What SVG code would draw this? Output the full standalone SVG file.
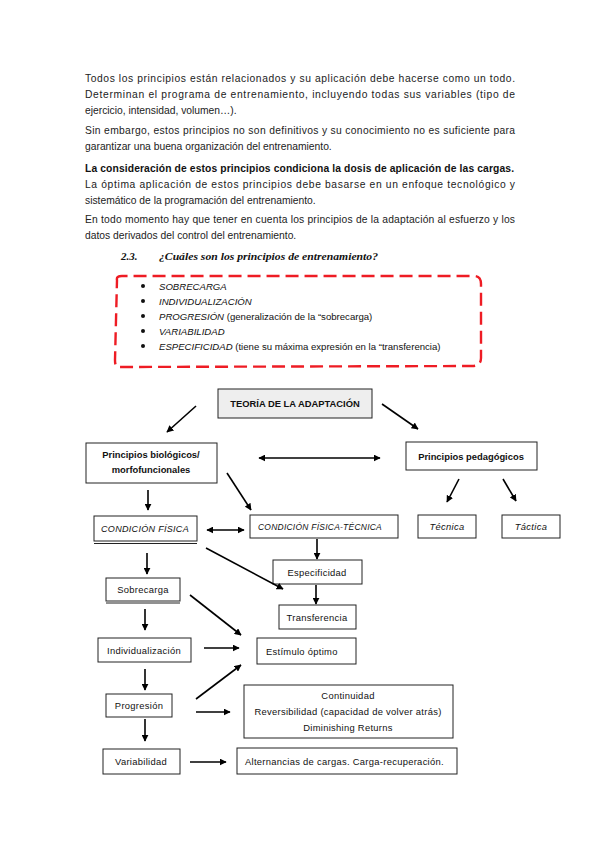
<svg xmlns="http://www.w3.org/2000/svg" width="599" height="848" viewBox="0 0 599 848">
<defs>
<marker id="ah" viewBox="0 0 10 10" refX="9" refY="5" markerWidth="7" markerHeight="7" markerUnits="userSpaceOnUse" orient="auto-start-reverse">
<path d="M0,0 L10,5 L0,10 z" fill="#000"/>
</marker>
</defs>
<style>
.p{font-family:"Liberation Sans",Arial,sans-serif;font-size:10.3px;fill:#222}
.b{font-weight:bold;fill:#111}
.h{font-family:"Liberation Serif",serif;font-size:11px;font-weight:bold;font-style:italic;fill:#111}
.l{font-family:"Liberation Sans",Arial,sans-serif;font-size:9.6px;fill:#111}
.i{font-style:italic}
.n{font-family:"Liberation Sans",Arial,sans-serif;font-size:9.4px;fill:#111;letter-spacing:0.3px}
.nb{font-weight:bold;letter-spacing:0}
.box{fill:#fff;stroke:#222;stroke-width:1}
.c{stroke:#000;stroke-width:1.6;fill:none;marker-end:url(#ah)}
.d{stroke:#000;stroke-width:1.6;fill:none;marker-end:url(#ah);marker-start:url(#ah)}
</style>
<g id="texto">
<text class="p" x="85" y="82" textLength="430" lengthAdjust="spacing">Todos los principios están relacionados y su aplicación debe hacerse como un todo.</text>
<text class="p" x="85" y="98" textLength="430" lengthAdjust="spacing">Determinan el programa de entrenamiento, incluyendo todas sus variables (tipo de</text>
<text class="p" x="85" y="114">ejercicio, intensidad, volumen…).</text>
<text class="p" x="85" y="134" textLength="430" lengthAdjust="spacing">Sin embargo, estos principios no son definitivos y su conocimiento no es suficiente para</text>
<text class="p" x="85" y="150">garantizar una buena organización del entrenamiento.</text>
<text class="p b" x="85" y="172" textLength="429" lengthAdjust="spacing">La consideración de estos principios condiciona la dosis de aplicación de las cargas.</text>
<text class="p" x="85" y="188" textLength="430" lengthAdjust="spacing">La óptima aplicación de estos principios debe basarse en un enfoque tecnológico y</text>
<text class="p" x="85" y="204">sistemático de la programación del entrenamiento.</text>
<text class="p" x="85" y="223" textLength="430" lengthAdjust="spacing">En todo momento hay que tener en cuenta los principios de la adaptación al esfuerzo y los</text>
<text class="p" x="85" y="239">datos derivados del control del entrenamiento.</text>
<text class="h" x="121" y="260">2.3.</text>
<text class="h" x="159" y="260" textLength="219" lengthAdjust="spacingAndGlyphs">¿Cuáles son los principios de entrenamiento?</text>
</g>
<g id="lista">
<path d="M117,280 Q116,276 122,276 L474,276 Q481,276 481,284 L481,358 Q481,366 472,366 L118,367 Q115,367 115,360 Z" fill="none" stroke="#ee1c24" stroke-width="2.4" stroke-dasharray="13,6"/>
<g class="l">
<circle cx="143" cy="286" r="2" fill="#111"/>
<circle cx="143" cy="301" r="2" fill="#111"/>
<circle cx="143" cy="316" r="2" fill="#111"/>
<circle cx="143" cy="331" r="2" fill="#111"/>
<circle cx="143" cy="346" r="2" fill="#111"/>
<text x="159" y="290" class="i">SOBRECARGA</text>
<text x="159" y="305" class="i">INDIVIDUALIZACIÓN</text>
<text x="159" y="320"><tspan class="i">PROGRESIÓN</tspan> (generalización de la “sobrecarga)</text>
<text x="159" y="335" class="i">VARIABILIDAD</text>
<text x="159" y="350"><tspan class="i">ESPECIFICIDAD</tspan> (tiene su máxima expresión en la “transferencia)</text>
</g>
</g>
<g id="teoria">
<rect x="218" y="389" width="154" height="29" fill="#eeeeee" stroke="#222"/>
<text class="n nb" x="295" y="407" text-anchor="middle">TEORÍA DE LA ADAPTACIÓN</text>
</g>
<g id="biologicos">
<rect class="box" x="86" y="443" width="131" height="40"/>
<text class="n nb" x="151" y="458" text-anchor="middle">Principios biológicos/</text>
<text class="n nb" x="151" y="473" text-anchor="middle">morfofuncionales</text>
</g>
<g id="pedagogicos">
<rect class="box" x="406" y="442" width="131" height="28"/>
<text class="n nb" x="471" y="460" text-anchor="middle">Principios pedagógicos</text>
</g>
<g id="condfisica">
<rect class="box" x="94" y="516" width="103" height="25"/>
<line x1="94" y1="543.5" x2="197" y2="543.5" stroke="#222"/>
<text class="n i" x="101" y="532" textLength="88" lengthAdjust="spacingAndGlyphs">CONDICIÓN FÍSICA</text>
</g>
<g id="condtecnica">
<rect class="box" x="250" y="515" width="148" height="23"/>
<text class="n i" x="258" y="530" textLength="124" lengthAdjust="spacingAndGlyphs">CONDICIÓN FÍSICA-TÉCNICA</text>
</g>
<g id="tecnica">
<rect class="box" x="418" y="515" width="58" height="23"/>
<text class="n i" x="447" y="530" text-anchor="middle">Técnica</text>
</g>
<g id="tactica">
<rect class="box" x="502" y="515" width="58" height="23"/>
<text class="n i" x="531" y="530" text-anchor="middle">Táctica</text>
</g>
<g id="especificidad">
<rect class="box" x="273" y="560" width="89" height="24"/>
<text class="n" x="317" y="576" text-anchor="middle">Especificidad</text>
</g>
<g id="transferencia">
<rect class="box" x="279" y="605" width="77" height="24"/>
<text class="n" x="317" y="621" text-anchor="middle">Transferencia</text>
</g>
<g id="sobrecarga">
<rect class="box" x="106" y="578" width="74" height="23"/>
<line x1="106" y1="603" x2="180" y2="603" stroke="#222"/>
<text class="n" x="143" y="593" text-anchor="middle">Sobrecarga</text>
</g>
<g id="individualizacion">
<rect class="box" x="98" y="638" width="93" height="24"/>
<text class="n" x="144" y="654" text-anchor="middle">Individualización</text>
</g>
<g id="estimulo">
<rect class="box" x="257" y="638" width="99" height="26"/>
<text class="n" x="266" y="655">Estímulo óptimo</text>
</g>
<g id="progresion">
<rect class="box" x="106" y="694" width="66" height="23"/>
<text class="n" x="139" y="709" text-anchor="middle">Progresión</text>
</g>
<g id="continuidad">
<rect class="box" x="244" y="685" width="209" height="53"/>
<text class="n" x="348" y="699" text-anchor="middle">Continuidad</text>
<text class="n" x="348" y="715" text-anchor="middle">Reversibilidad (capacidad de volver atrás)</text>
<text class="n" x="348" y="731" text-anchor="middle">Diminishing Returns</text>
</g>
<g id="variabilidad">
<rect class="box" x="103" y="749" width="77" height="25"/>
<text class="n" x="141" y="765" text-anchor="middle">Variabilidad</text>
</g>
<g id="alternancias">
<rect class="box" x="237" y="748" width="220" height="26"/>
<text class="n" x="245" y="765">Alternancias de cargas. Carga-recuperación.</text>
</g>
<g id="conectores">
<line class="c" x1="196" y1="406" x2="167" y2="432"/>
<line class="c" x1="382" y1="404" x2="418" y2="429"/>
<line class="d" x1="259" y1="458" x2="380" y2="458"/>
<line class="c" x1="227" y1="473" x2="251" y2="510"/>
<line class="c" x1="148" y1="490" x2="148" y2="510"/>
<line class="c" x1="459" y1="479" x2="447" y2="502"/>
<line class="c" x1="503" y1="479" x2="516" y2="501"/>
<line class="d" x1="207" y1="530" x2="244" y2="530"/>
<line class="c" x1="317" y1="539" x2="317" y2="559"/>
<line class="c" x1="316" y1="585" x2="316" y2="604"/>
<line class="c" x1="206" y1="548" x2="283" y2="589"/>
<line class="c" x1="147" y1="553" x2="147" y2="574"/>
<line class="c" x1="190" y1="595" x2="241" y2="635"/>
<line class="c" x1="145" y1="609" x2="145" y2="630"/>
<line class="c" x1="204" y1="648" x2="239" y2="648"/>
<line class="c" x1="145" y1="669" x2="145" y2="690"/>
<line class="c" x1="196" y1="699" x2="241" y2="665"/>
<line class="c" x1="196" y1="712" x2="230" y2="712"/>
<line class="c" x1="145" y1="719" x2="145" y2="741"/>
<line class="c" x1="190" y1="762" x2="226" y2="762"/>
</g>
</svg>
